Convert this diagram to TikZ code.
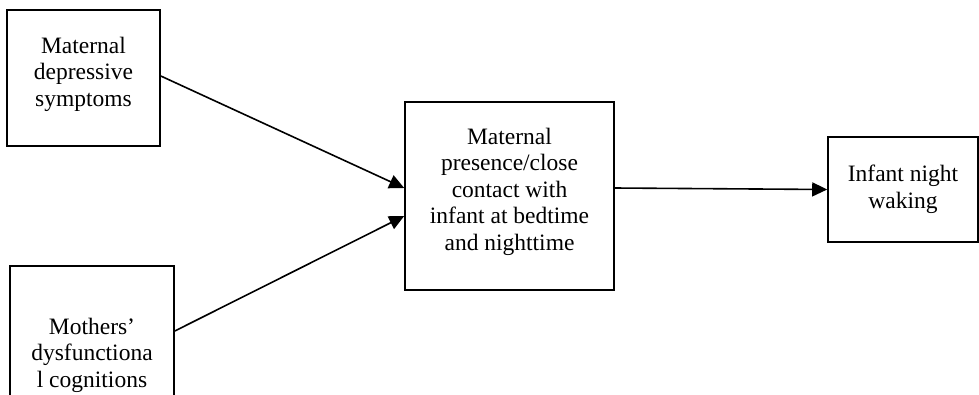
\documentclass[tikz,border=0pt]{standalone}
\usepackage{fontspec}
\setmainfont{Liberation Serif}
\usetikzlibrary{arrows.meta}
\tikzset{
  box/.style={draw, line width=1.6pt, align=center, inner sep=0pt,
    font=\fontsize{23.5}{26.5}\selectfont},
  conn/.style={line width=1.6pt, -{Triangle[length=15pt,width=14pt]}}
}
\begin{document}
\begin{tikzpicture}[x=1pt,y=-1pt]
\useasboundingbox (0,0) rectangle (979,394);
\clip (0,0) rectangle (979,394);
\node[box, minimum width=153pt, minimum height=136pt] (b1) at (83.5,78) {Maternal\\depressive\\symptoms\rule[-13pt]{0pt}{0pt}};
\node[box, minimum width=164pt, minimum height=178pt] (b2) at (92,355) {Mothers’\\dysfunctiona\\l cognitions};
\node[box, minimum width=209pt, minimum height=188pt] (b3) at (509.5,196) {Maternal\\presence/close\\contact with\\infant at bedtime\\and nighttime\rule[-14pt]{0pt}{0pt}};
\node[box, minimum width=150pt, minimum height=105pt] (b4) at (903,189.5) {Infant night\\waking};
\draw[conn] ([yshift=2pt]b1.east) -- ([yshift=8pt]b3.west);
\draw[conn] ([yshift=24pt]b2.east) -- ([yshift=-20pt]b3.west);
\draw[conn] ([yshift=8pt]b3.east) -- (b4.west);
\end{tikzpicture}
\end{document}
